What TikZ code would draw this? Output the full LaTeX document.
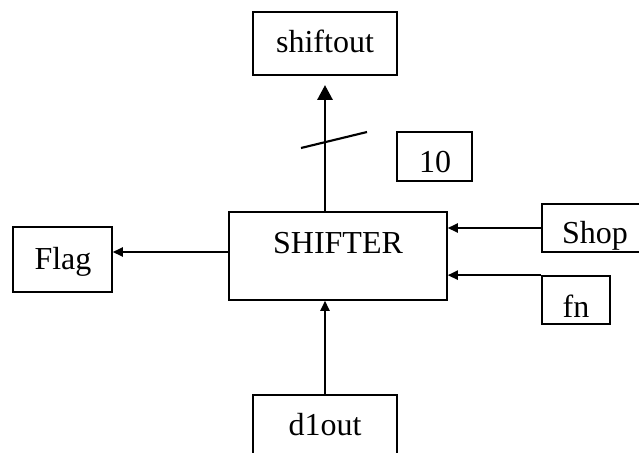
\documentclass[tikz,border=0pt]{standalone}
\usepackage{fontspec}
\setmainfont{Liberation Serif}
\usetikzlibrary{arrows.meta,calc}
\begin{document}
\begin{tikzpicture}[x=0.75pt,y=-0.75pt,
  box/.style={draw,line width=1.3pt,rectangle,inner sep=0pt},
  lbl/.style={anchor=base,inner sep=0pt,font=\fontsize{24}{28}\selectfont},
  conn/.style={line width=1.2pt},
  smallarr/.style={conn,-{Triangle[length=7.5pt,width=7pt]}},
  bigarr/.style={conn,-{Triangle[length=11pt,width=11.5pt]}}]
\clip (0,0) rectangle (639,453);
% boxes
\node[box,minimum width=108pt,minimum height=47.25pt] (shiftout) at (325,43.5) {};
\node[box,minimum width=56.25pt,minimum height=36.75pt] (ten) at (434.5,156.5) {};
\node[box,minimum width=163.5pt,minimum height=66pt] (shifter) at (338,256) {};
\node[box,minimum width=88.5pt,minimum height=36pt] (shop) at (601,228) {};
\node[box,minimum width=51pt,minimum height=36pt] (fn) at (576,300) {};
\node[box,minimum width=74.25pt,minimum height=48.75pt] (flag) at (62.5,259.5) {};
\node[box,minimum width=108pt,minimum height=56.25pt] (d1out) at (325,432.5) {};
% texts
\node[lbl] (tshiftout) at (325,53) {shiftout};
\node[lbl] (tten) at (435,172) {10};
\node[lbl] (tshifter) at (338,253) {SHIFTER};
\node[lbl] (tshop) at (595,243) {Shop};
\node[lbl] (tfn) at (576,317) {fn};
\node[lbl] (tflag) at (63,269) {Flag};
\node[lbl] (td1out) at (325,435) {d1out};
% connectors
\draw[bigarr,shorten >=7pt] (shiftout.south |- shifter.north) -- (shiftout.south);
\draw[smallarr] (d1out.north) -- (d1out.north |- shifter.south);
\draw[smallarr] (shop.west) -- (shop.west -| shifter.east);
\draw[smallarr] (fn.north west) -- (fn.north west -| shifter.east);
\coordinate (flagin) at ($(flag.east)+(0,-7.5)$);
\draw[smallarr] (shifter.west |- flagin) -- (flagin);
% bus slash
\coordinate (s1) at (301,148);
\coordinate (s2) at (367,132);
\draw[line width=1.6pt] (s1) -- (s2);
\end{tikzpicture}
\end{document}
